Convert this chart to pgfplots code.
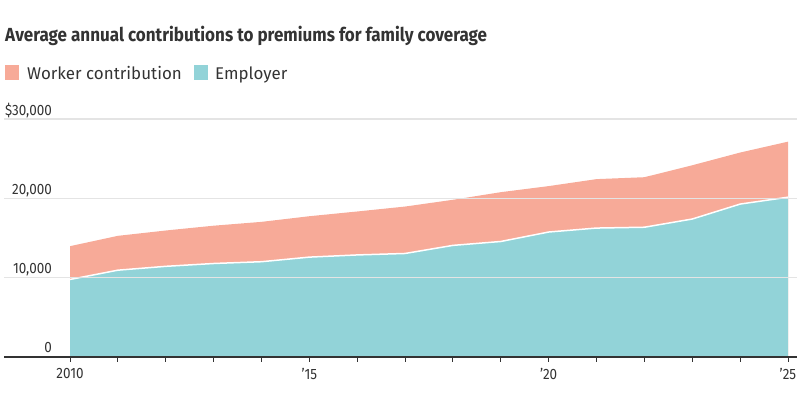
\documentclass[border=0pt]{standalone}
\usepackage{fontspec}
\setmainfont{Fira Sans}
\newfontfamily\titlefont[FakeStretch=0.9]{Fira Sans}
\newfontfamily\tickfont[FakeStretch=0.9]{Fira Sans}
\newfontfamily\legfont{Fira Sans}
\usepackage{pgfplots}
\pgfplotsset{compat=1.18}
\definecolor{worker}{HTML}{F7AA98}
\definecolor{employer}{HTML}{92D3D8}
\definecolor{gridc}{HTML}{E4E4E4}
\definecolor{txt}{HTML}{333333}
\pgfplotstableread{
year total employer
2010 13970 9773
2011 15273 10944
2012 15945 11429
2013 16551 11786
2014 17034 12011
2015 17745 12590
2016 18342 12865
2017 18964 13049
2018 19816 14069
2019 20776 14561
2020 21542 15754
2021 22421 16253
2022 22663 16357
2023 24168 17393
2024 25772 19276
2025 27143 20143
}\premiums
\begin{document}
\begin{tikzpicture}[x=1bp,y=1bp]
\useasboundingbox (0bp,0bp) rectangle (800bp,419bp);
\node[anchor=base west, inner sep=0, text=txt, font=\titlefont\bfseries\fontsize{19}{22}\selectfont] at (5bp,377bp) {Average annual contributions to premiums for family coverage};
\fill[worker] (5bp,339bp) rectangle (19bp,354bp);
\node[anchor=base west, inner sep=0, text=txt, font=\legfont\fontsize{17}{20}\selectfont] at (27bp,339bp) {Worker contribution};
\fill[employer] (194bp,339bp) rectangle (208bp,354bp);
\node[anchor=base west, inner sep=0, text=txt, font=\legfont\fontsize{17}{20}\selectfont] at (215bp,339bp) {Employer};
\begin{axis}[
  at={(4bp,62bp)}, anchor=south west,
  width=793bp, height=238bp, scale only axis,
  xmin=2008.621, xmax=2025.188,
  ymin=0, ymax=30000,
  scaled y ticks=false,
  axis on top,
  axis x line=bottom, axis y line=left,
  axis line style={-},
  y axis line style={draw=none},
  x axis line style={color=txt, line width=1.2bp},
  ytick={0,10000,20000,30000},
  yticklabels={0,{10,000},{20,000},{\$30,000}},
  ytick style={draw=none},
  ymajorgrids, grid style={gridc, line width=1.2bp},
  yticklabel style={anchor=base east, inner sep=0, xshift=53bp, yshift=4bp, text=txt, font=\tickfont\fontsize{15}{15}\selectfont},
  xtick={2010,...,2025},
  xticklabels={2010,,,,,’15,,,,,’20,,,,,’25},
  tick align=outside,
  major tick length=5bp,
  xtick style={color=txt, line width=0.8bp},
  xticklabel style={anchor=north, inner sep=0, yshift=-6bp, text=txt, font=\tickfont\fontsize{15}{15}\selectfont},
  clip=false,
]
\addplot[fill=worker, draw=none] table[x=year, y=total] {\premiums} \closedcycle;
\addplot[fill=employer, draw=none] table[x=year, y=employer] {\premiums} \closedcycle;
\addplot[white, line width=1.5bp] table[x=year, y=employer] {\premiums};
\end{axis}
\end{tikzpicture}
\end{document}
